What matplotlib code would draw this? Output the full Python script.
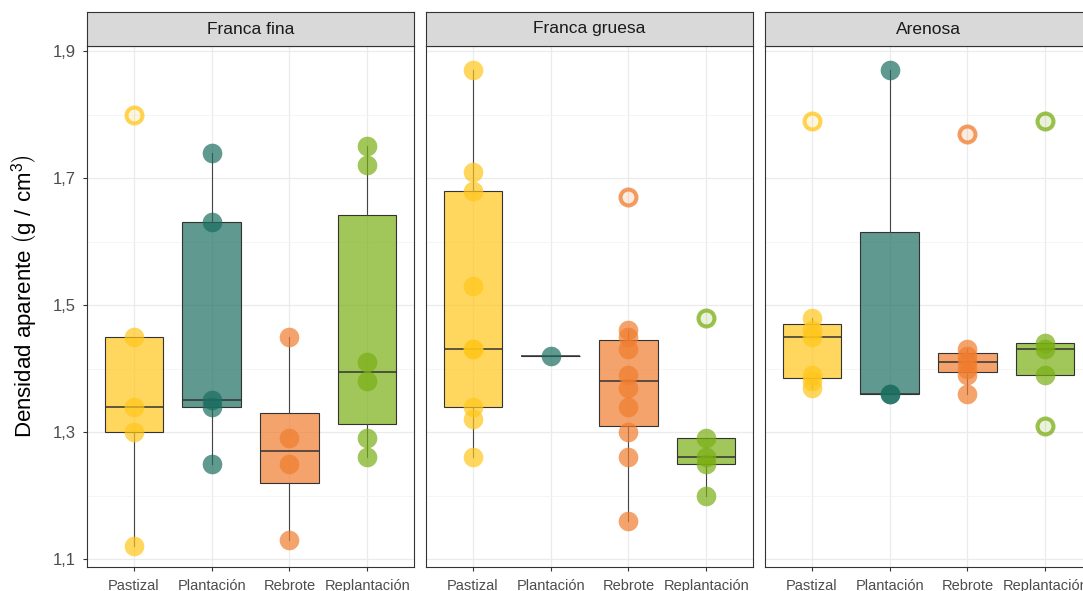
import numpy as np
import matplotlib.pyplot as plt
from matplotlib.colors import to_rgba

# Densidad aparente por textura de suelo y uso
paneles = ['Franca fina', 'Franca gruesa', 'Arenosa']
usos = ['Pastizal', 'Plantación', 'Rebrote', 'Replantación']
colores = ['#FFC61A', '#1B6E60', '#F07D2E', '#7AAE14']

ff_pastizal = [1.80, 1.45, 1.34, 1.30, 1.12]
ff_plantacion = [1.74, 1.63, 1.35, 1.34, 1.25]
ff_rebrote = [1.45, 1.29, 1.25, 1.13]
ff_replantacion = [1.75, 1.72, 1.41, 1.38, 1.29, 1.26]

fg_pastizal = [1.87, 1.71, 1.68, 1.53, 1.43, 1.43, 1.34, 1.32, 1.26]
fg_plantacion = [1.42]
fg_rebrote = [1.67, 1.46, 1.45, 1.43, 1.39, 1.37, 1.34, 1.30, 1.26, 1.16]
fg_replantacion = [1.48, 1.29, 1.26, 1.25, 1.20]

ar_pastizal = [1.79, 1.48, 1.46, 1.45, 1.39, 1.38, 1.37]
ar_plantacion = [1.87, 1.36, 1.36]
ar_rebrote = [1.77, 1.43, 1.42, 1.41, 1.40, 1.39, 1.36]
ar_replantacion = [1.79, 1.44, 1.43, 1.39, 1.31]

y_ticks = [1.1, 1.3, 1.5, 1.7, 1.9]
y_minor = [1.2, 1.4, 1.6, 1.8]

datos = {
    'Franca fina': [ff_pastizal, ff_plantacion, ff_rebrote, ff_replantacion],
    'Franca gruesa': [fg_pastizal, fg_plantacion, fg_rebrote, fg_replantacion],
    'Arenosa': [ar_pastizal, ar_plantacion, ar_rebrote, ar_replantacion],
}

plt.rcParams['font.family'] = ['Liberation Sans', 'DejaVu Sans']
plt.rcParams['mathtext.fontset'] = 'custom'
plt.rcParams['mathtext.rm'] = 'Liberation Sans'

W, H = 1083, 591
fig = plt.figure(figsize=(W / 100, H / 100), dpi=100)

# posiciones de paneles en pixeles
lefts = [87, 426, 765]
pw = 327
top, bottom, strip_h = 46, 567, 34

for i, panel in enumerate(paneles):
    ax = fig.add_axes([lefts[i] / W, 1 - bottom / H, pw / W, (bottom - top) / H])
    for j, (vals, col) in enumerate(zip(datos[panel], colores)):
        pos = j + 1
        bp = ax.boxplot(vals, positions=[pos], widths=0.75, patch_artist=True,
                        showcaps=False, whis=1.5, manage_ticks=False, zorder=2,
                        boxprops=dict(facecolor=to_rgba(col, 0.7), edgecolor='#333333', linewidth=0.8),
                        medianprops=dict(color='#333333', linewidth=1.1),
                        whiskerprops=dict(color='#444444', linewidth=0.8),
                        flierprops=dict(marker='o', markersize=11.5,
                                        markerfacecolor=to_rgba(col, 0.15),
                                        markeredgecolor=to_rgba(col, 0.75),
                                        markeredgewidth=2.9))
        atipicos = list(bp['fliers'][0].get_ydata())
        normales = [v for v in vals if v not in atipicos]
        ax.scatter([pos] * len(normales), normales, s=200, color=col, alpha=0.7,
                   linewidths=0, zorder=3)

    ax.set_xlim(0.4, 4.6)
    ax.set_ylim(1.0874, 1.9079)
    ax.set_xticks(range(1, len(usos) + 1))
    ax.set_xticklabels(usos)
    ax.set_yticks(y_ticks)
    ax.set_yticks(y_minor, minor=True)
    ax.set_yticklabels([f'{v:.1f}'.replace('.', ',') for v in y_ticks])
    ax.grid(which='major', color='#EBEBEB', linewidth=0.9)
    ax.grid(which='minor', axis='y', color='#F2F2F2', linewidth=0.5)
    ax.set_axisbelow(True)
    ax.tick_params(which='major', length=2.9, width=0.8, color='#333333',
                   labelcolor='#4D4D4D')
    ax.tick_params(axis='x', labelsize=10.5, pad=6)
    ax.tick_params(axis='y', labelsize=12, pad=5)
    ax.tick_params(which='minor', length=0)
    if i > 0:
        ax.tick_params(axis='y', left=False, labelleft=False)
    for s in ax.spines.values():
        s.set_color('#333333')
        s.set_linewidth(0.8)

    # franja con el nombre de la textura
    sax = fig.add_axes([lefts[i] / W, 1 - top / H, pw / W, strip_h / H])
    sax.set_facecolor('#D9D9D9')
    sax.set_xticks([])
    sax.set_yticks([])
    for s in sax.spines.values():
        s.set_color('#333333')
        s.set_linewidth(0.8)
    sax.text(0.5, 0.5, panel, ha='center', va='center', fontsize=12.5, color='#1A1A1A',
             transform=sax.transAxes)

fig.text(25 / W, 1 - 296 / H, r'Densidad aparente $\left(\mathrm{g\ /\ cm^3}\right)$',
         rotation=90, ha='center', va='center', fontsize=16, color='black')

fig.savefig('out.png', dpi=100)
